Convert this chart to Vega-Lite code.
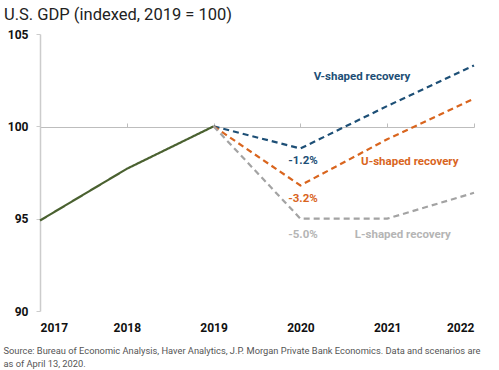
{
  "$schema": "https://vega.github.io/schema/vega-lite/v6.json",
  "width": 434,
  "height": 277,
  "autosize": {"type": "none"},
  "padding": {"left": 40, "top": 34, "right": 25, "bottom": 59},
  "background": "white",
  "config": {
    "view": {"stroke": null},
    "font": "Roboto"
  },
  "title": {
    "text": "U.S. GDP (indexed, 2019 = 100)",
    "anchor": "start",
    "frame": "group",
    "dx": -36,
    "offset": 5,
    "fontSize": 16.5,
    "fontWeight": "normal",
    "color": "#222222",
    "font": "Roboto"
  },
  "datasets": {
    "lines": [
      {"year": 2017, "value": 94.9, "series": "Actual"},
      {"year": 2018, "value": 97.7, "series": "Actual"},
      {"year": 2019, "value": 100.0, "series": "Actual"},
      {"year": 2019, "value": 100.0, "series": "V"},
      {"year": 2020, "value": 98.8, "series": "V"},
      {"year": 2021, "value": 101.1, "series": "V"},
      {"year": 2022, "value": 103.3, "series": "V"},
      {"year": 2019, "value": 100.0, "series": "U"},
      {"year": 2020, "value": 96.8, "series": "U"},
      {"year": 2021, "value": 99.3, "series": "U"},
      {"year": 2022, "value": 101.5, "series": "U"},
      {"year": 2019, "value": 100.0, "series": "L"},
      {"year": 2020, "value": 95.0, "series": "L"},
      {"year": 2021, "value": 95.0, "series": "L"},
      {"year": 2022, "value": 96.4, "series": "L"}
    ],
    "labels": [
      {"year": 2020.71, "value": 102.65, "label": "V-shaped recovery", "series": "V"},
      {"year": 2020.03, "value": 98.1, "label": "-1.2%", "series": "V"},
      {"year": 2021.26, "value": 98.05, "label": "U-shaped recovery", "series": "U"},
      {"year": 2020.03, "value": 96.05, "label": "-3.2%", "series": "U"},
      {"year": 2020.03, "value": 94.1, "label": "-5.0%", "series": "L"},
      {"year": 2021.18, "value": 94.1, "label": "L-shaped recovery", "series": "L"}
    ]
  },
  "resolve": {"axis": {"x": "independent", "y": "independent"}, "scale": {"color": "independent"}},
  "layer": [
    {
      "data": {"name": "lines"},
      "mark": {"type": "line", "strokeWidth": 2.2},
      "encoding": {
        "x": {
          "field": "year", "type": "quantitative",
          "scale": {"domain": [2017, 2022], "nice": false, "zero": false},
          "axis": {
            "orient": "top", "offset": -93, "labels": false, "title": null, "grid": false,
            "values": [2017, 2018, 2019, 2020, 2021, 2022],
            "domainColor": "#bdbdbd", "domainWidth": 1.2, "tickColor": "#bdbdbd", "tickSize": 4
          }
        },
        "y": {
          "field": "value", "type": "quantitative",
          "scale": {"domain": [90, 105], "nice": false, "zero": false},
          "axis": {
            "values": [90, 95, 100, 105], "title": null, "grid": false,
            "domainColor": "#cccccc", "domainWidth": 1.5, "tickColor": "#cccccc", "tickSize": 4,
            "labelFontSize": 12, "labelFontWeight": "bold", "labelColor": "#111111", "labelPadding": 8,
            "labelFont": "Roboto"
          }
        },
        "color": {
          "field": "series", "type": "nominal", "legend": null,
          "scale": {"domain": ["Actual", "V", "U", "L"], "range": ["#4a6130", "#1d4f76", "#d9651e", "#a3a3a3"]}
        },
        "strokeDash": {
          "field": "series", "type": "nominal", "legend": null,
          "scale": {"domain": ["Actual", "V", "U", "L"], "range": [[1, 0], [6, 4], [6, 4], [6, 4]]}
        }
      }
    },
    {
      "data": {"name": "labels"},
      "mark": {"type": "text", "fontSize": 11.5, "fontWeight": "bold", "font": "Roboto", "align": "center", "baseline": "middle"},
      "encoding": {
        "x": {
          "field": "year", "type": "quantitative",
          "scale": {"domain": [2017, 2022], "nice": false, "zero": false},
          "axis": {
            "orient": "bottom", "domain": false, "ticks": false, "grid": false,
            "values": [2017, 2018, 2019, 2020, 2021, 2022], "format": "d",
            "labelFontSize": 12, "labelFontWeight": "bold", "labelColor": "#111111", "labelPadding": 11,
            "labelFont": "Roboto",
            "title": ["Source: Bureau of Economic Analysis, Haver Analytics, J.P. Morgan Private Bank Economics. Data and scenarios are", "as of April 13, 2020."],
            "titleAnchor": "start", "titleAlign": "left", "titleX": -37, "titleY": 35, "titleBaseline": "top",
            "titleFontSize": 9.3, "titleFontWeight": "normal", "titleColor": "#555555", "titleLineHeight": 13, "titleFont": "Roboto"
          }
        },
        "y": {
          "field": "value", "type": "quantitative",
          "scale": {"domain": [90, 105], "nice": false, "zero": false},
          "axis": null
        },
        "text": {"field": "label"},
        "color": {
          "field": "series", "type": "nominal", "legend": null,
          "scale": {"domain": ["V", "U", "L"], "range": ["#1d4f76", "#d9651e", "#b5b5b5"]}
        }
      }
    }
  ]
}
